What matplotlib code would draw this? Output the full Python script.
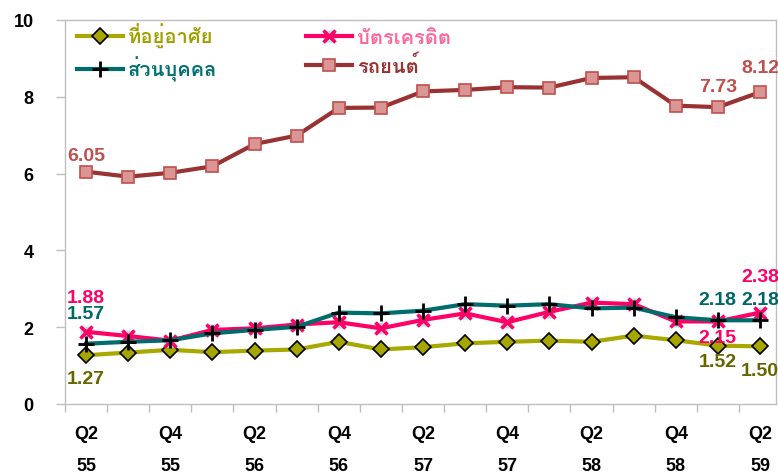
import matplotlib
matplotlib.use("Agg")
import matplotlib.pyplot as plt
from matplotlib import font_manager
from fontTools.ttLib import TTFont

# data
quarters = ["Q2", "Q3", "Q4", "Q1", "Q2", "Q3", "Q4", "Q1", "Q2",
            "Q3", "Q4", "Q1", "Q2", "Q3", "Q4", "Q1", "Q2"]
years = ["55", "55", "55", "56", "56", "56", "56", "57", "57",
         "57", "57", "58", "58", "58", "58", "59", "59"]
housing = [1.27, 1.34, 1.41, 1.35, 1.39, 1.42, 1.62, 1.42, 1.48,
           1.58, 1.62, 1.65, 1.62, 1.78, 1.66, 1.52, 1.50]
credit_card = [1.88, 1.77, 1.65, 1.93, 1.97, 2.07, 2.13, 1.97, 2.19,
               2.36, 2.13, 2.40, 2.64, 2.60, 2.15, 2.15, 2.38]
personal = [1.57, 1.62, 1.66, 1.84, 1.93, 2.01, 2.38, 2.36, 2.43,
            2.60, 2.56, 2.60, 2.49, 2.51, 2.26, 2.18, 2.18]
car = [6.05, 5.92, 6.02, 6.19, 6.77, 6.99, 7.71, 7.72, 8.14,
       8.18, 8.25, 8.24, 8.49, 8.51, 7.77, 7.73, 8.12]
names = ["ที่อยู่อาศัย", "บัตรเครดิต", "ส่วนบุคคล", "รถยนต์"]


def find_thai_font():
    # first installed font that has Thai glyphs
    for f in font_manager.fontManager.ttflist:
        try:
            cmap = TTFont(f.fname, fontNumber=0).getBestCmap()
        except Exception:
            continue
        if cmap and 0x0E17 in cmap and 0x0E48 in cmap:
            return f.name
    return "DejaVu Sans"


thai = find_thai_font()
plt.rcParams["font.family"] = ["Liberation Sans", "DejaVu Sans"]

fig = plt.figure(figsize=(7.78, 4.77), dpi=100)
ax = fig.add_axes([65 / 778, 72 / 477, 711 / 778, 384 / 477])

x = list(range(len(car)))

h_house, = ax.plot(x, housing, color="#A8A800", lw=3, marker="D", ms=8,
                   mfc="#A6A600", mec="black", mew=1.2, zorder=3)
h_cc_bg, = ax.plot(x, credit_card, ls="none", marker="s", ms=9,
                   mfc="#B7DEE8", mec="none", zorder=4)
h_cc, = ax.plot(x, credit_card, color="#FF0066", lw=3, marker="x", ms=9,
                mec="#FF0066", mew=2.5, zorder=4)
h_pers, = ax.plot(x, personal, color="#006C6C", lw=3, marker="+", ms=11,
                  mec="black", mew=2, zorder=5)
h_car, = ax.plot(x, car, color="#993333", lw=3, marker="s", ms=9,
                 mfc="#D99694", mec="#C0504D", mew=1.2, zorder=3)

ax.set_xlim(-0.5, 16.38)
ax.set_ylim(0, 10)
ax.set_yticks(range(0, 11, 2))
ax.tick_params(axis="y", direction="out", length=6.5, width=1, color="#BFBFBF",
               pad=16, labelsize=13)
for t in ax.get_yticklabels():
    t.set_fontweight("bold")

# tick marks on category boundaries, labels on every second category
ax.set_xticks([i - 0.5 for i in range(17)])
ax.set_xticklabels([])
ax.tick_params(axis="x", which="major", direction="out", length=6, width=1,
               color="#BFBFBF")
ax.set_xticks(x[::2], [f"{q}\n{y}" for q, y in zip(quarters[::2], years[::2])],
              minor=True)
ax.tick_params(axis="x", which="minor", length=0, pad=15)
for t in ax.get_xticklabels(minor=True):
    t.set_fontweight("bold")
    t.set_fontsize(13)
    t.set_linespacing(2.15)
    t.set_family(["Liberation Sans Narrow", "Liberation Sans"])

for s in ax.spines.values():
    s.set_color("#BFBFBF")
    s.set_linewidth(1)


def label(i, vals, text, dy, color):
    ax.annotate(text, (i, vals[i]), xytext=(0, dy), textcoords="offset pixels",
                ha="center", va="center", color=color, fontsize=14,
                fontweight="bold", zorder=6, annotation_clip=False)


label(0, car, "6.05", 16, "#C0504D")
label(15, car, "7.73", 21, "#C0504D")
label(16, car, "8.12", 25, "#C0504D")
label(0, credit_card, "1.88", 34, "#FF0066")
label(15, credit_card, "2.15", -16, "#FF0066")
label(16, credit_card, "2.38", 36, "#FF0066")
label(0, personal, "1.57", 30, "#006666")
label(15, personal, "2.18", 21, "#006666")
label(16, personal, "2.18", 21, "#006666")
label(0, housing, "1.27", -23, "#666600")
label(15, housing, "1.52", -16, "#666600")
label(16, housing, "1.50", -24, "#666600")

leg = ax.legend([h_house, h_pers, (h_cc_bg, h_cc), h_car],
                [names[0], names[2], names[1], names[3]],
                ncol=2, loc="upper left", bbox_to_anchor=(0.005, 1.012),
                frameon=False, handlelength=2.3, handletextpad=0.25,
                columnspacing=4.4, labelspacing=0.38, borderaxespad=0.0,
                prop={"family": [thai, "DejaVu Sans"], "size": 14.5,
                      "weight": "bold"})
for t, c in zip(leg.get_texts(), ["#A0A000", "#007070", "#FF6699", "#993333"]):
    t.set_color(c)

plt.savefig("out.png", dpi=100)
